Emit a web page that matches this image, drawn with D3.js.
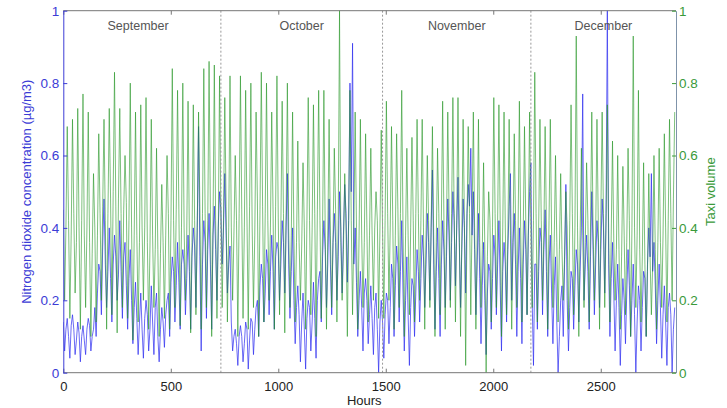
<!DOCTYPE html>
<html>
<head>
<meta charset="utf-8">
<script src="https://cdn.jsdelivr.net/npm/d3@7"></script>
<style>
  html, body { margin: 0; padding: 0; background: #fff; }
  svg { display: block; font-family: "Liberation Sans", Arial, sans-serif; }
</style>
</head>
<body>
<div id="chart"></div>
<script>
// Hourly NO2 vs taxi volume, Sep–Dec. Values at ~6 h steps
// (4 per day: 00h, 06h, 12h, 18h), one array per month and series.

const months = ['September', 'October', 'November', 'December'];
const monthStart = [0, 733, 1485, 2175];   // hours where the dotted separators sit
const hourEnd = 2850;
const xTicks = [0, 500, 1000, 1500, 2000, 2500];
const yTicks = [0, 0.2, 0.4, 0.6, 0.8, 1];

// nitrogen dioxide (left axis)
const no2Sep = [
  .14,.06,.12,.15, .10,.04,.13,.16, .12,.05,.09,.14, .11,.03,.10,.13, .09,.05,.12,.15,
  .13,.06,.10,.12, .18,.10,.22,.30, .28,.16,.35,.48, .30,.18,.28,.40, .26,.14,.30,.38,
  .32,.20,.27,.42, .28,.15,.32,.36, .24,.12,.26,.34, .20,.08,.18,.25, .15,.05,.14,.22,
  .12,.04,.15,.20, .16,.06,.12,.24, .14,.05,.18,.22, .10,.03,.12,.18, .14,.07,.16,.20,
  .22,.10,.25,.32, .28,.14,.24,.36, .25,.12,.30,.34, .30,.16,.26,.38, .28,.12,.32,.40,
  .35,.18,.40,.68, .32,.06,.30,.42, .36,.15,.34,.44, .30,.12,.38,.46, .34,.20,.40,.50
];
const no2Oct = [
  .45,.30,.40,.55, .38,.22,.30,.35, .14,.06,.10,.12, .08,.02,.10,.13, .10,.03,.08,.14,
  .12,.01,.09,.15, .14,.05,.12,.18, .20,.10,.24,.30, .26,.14,.22,.34, .30,.16,.28,.38,
  .28,.12,.32,.36, .34,.20,.30,.42, .36,.22,.40,.55, .30,.15,.28,.40, .20,.08,.18,.24,
  .16,.03,.14,.22, .12,.01,.15,.20, .18,.06,.14,.25, .15,.04,.20,.26, .28,.14,.32,.42,
  .34,.18,.30,.48, .30,.16,.36,.44, .36,.20,.32,.50, .40,.22,.38,.52, .44,.25,.42,.80,
  .50,.91,.30,.40, .25,.10,.20,.28, .18,.06,.22,.26, .20,.08,.16,.24, .15,.05,.18,.22,
  .12,.00,.14,.20
];
const no2Nov = [
  .14,.04,.16,.22, .20,.08,.18,.30, .26,.10,.24,.35, .30,.14,.28,.42, .22,.06,.20,.32,
  .16,.02,.18,.26, .24,.10,.22,.34, .28,.14,.26,.38, .32,.18,.30,.44, .36,.20,.40,.56,
  .30,.12,.28,.40, .26,.10,.30,.42, .34,.18,.32,.48, .38,.20,.36,.50, .42,.24,.40,.54,
  .36,.18,.34,.48, .40,.22,.44,.52, .46,.62,.38,.50, .34,.16,.30,.44, .26,.08,.24,.36,
  .20,.05,.22,.30, .28,.12,.26,.38, .32,.16,.30,.42, .24,.06,.28,.36, .30,.14,.34,.46,
  .55,.20,.36,.44, .30,.10,.28,.40, .26,.08,.30,.42, .34,.16,.38,.50
];
const no2Dec = [
  .58,.20,.02,.30, .30,.12,.28,.40, .36,.16,.34,.45, .28,.10,.30,.38, .22,.08,.24,.32,
  .14,.00,.10,.20, .24,.10,.30,.52, .20,.06,.18,.28, .26,.12,.24,.34, .30,.14,.28,.40,
  .77,.20,.30,.38, .28,.12,.32,.50, .34,.16,.30,.42, .36,.18,.34,.48, .40,.22,.44,1.0,
  .30,.10,.26,.36, .22,.06,.20,.30, .18,.02,.16,.26, .20,.08,.22,.34, .24,.10,.20,.30,
  .16,.00,.14,.24, .20,.06,.18,.28, .26,.10,.30,.40, .32,.55,.28,.36, .24,.08,.20,.30,
  .18,.04,.16,.24, .14,.02,.18,.22, .16,.00,.12,.18
];

// taxi volume (right axis)
const taxiSep = [
  .45,.20,.40,.68, .42,.15,.38,.70, .44,.22,.36,.73, .40,.12,.42,.77, .38,.18,.40,.72,
  .36,.10,.33,.55, .40,.14,.38,.66, .44,.20,.46,.70, .42,.12,.44,.73, .48,.16,.50,.83,
  .46,.11,.48,.73, .44,.18,.45,.60, .47,.15,.42,.80, .40,.09,.38,.72, .38,.14,.36,.74,
  .40,.20,.40,.76, .36,.12,.35,.70, .38,.18,.34,.62, .34,.10,.33,.52, .36,.15,.38,.60,
  .44,.12,.42,.84, .42,.18,.45,.78, .45,.13,.40,.80, .40,.20,.38,.75, .38,.11,.36,.74,
  .42,.16,.40,.72, .46,.12,.44,.84, .44,.18,.42,.86, .45,.10,.40,.85, .42,.15,.38,.82
];
const taxiOct = [
  .44,.18,.42,.76, .46,.14,.40,.82, .40,.20,.38,.60, .42,.10,.44,.82, .45,.15,.40,.78,
  .43,.12,.46,.80, .40,.18,.38,.72, .48,.10,.45,.83, .46,.14,.44,.80, .42,.20,.40,.72,
  .45,.12,.46,.82, .43,.16,.40,.75, .44,.11,.42,.80, .40,.18,.38,.72, .38,.14,.36,.64,
  .36,.20,.35,.58, .40,.12,.42,.76, .42,.16,.40,.74, .44,.10,.45,.78, .42,.15,.40,.78,
  .40,.12,.38,.70, .38,.18,.36,.62, .45,.14,.42,1.0, .36,.20,.34,.55, .40,.10,.42,.78,
  .42,.16,.40,.72, .40,.12,.38,.70, .38,.18,.36,.66, .40,.14,.38,.62, .38,.20,.40,.50,
  .42,.15,.40,.67
];
const taxiNov = [
  .40,.15,.42,.75, .44,.20,.40,.68, .42,.12,.38,.66, .45,.18,.44,.78, .40,.10,.38,.62,
  .38,.16,.40,.65, .42,.14,.44,.70, .44,.20,.42,.70, .40,.12,.38,.60, .42,.18,.40,.68,
  .38,.10,.36,.62, .44,.16,.42,.75, .42,.12,.40,.72, .45,.18,.44,.76, .44,.14,.42,.76,
  .40,.10,.38,.70, .42,.02,.40,.68, .44,.16,.42,.72, .40,.12,.38,.70, .36,.18,.34,.58,
  .34,.00,.32,.50, .42,.14,.40,.76, .44,.18,.42,.74, .42,.10,.40,.72, .40,.16,.38,.70,
  .38,.12,.36,.66, .42,.18,.40,.75, .40,.14,.38,.68, .42,.16,.40,.72
];
const taxiDec = [
  .40,.18,.42,.83, .44,.14,.40,.70, .42,.20,.38,.68, .40,.12,.42,.70, .38,.18,.36,.60,
  .36,.14,.34,.55, .34,.20,.32,.50, .40,.12,.42,.74, .44,.16,.40,.93, .40,.10,.38,.62,
  .38,.18,.36,.58, .42,.14,.40,.72, .40,.20,.38,.70, .42,.12,.44,.72, .44,.18,.40,.74,
  .40,.14,.38,.64, .36,.20,.34,.60, .34,.12,.32,.57, .38,.16,.36,.62, .42,.10,.40,.93,
  .40,.18,.38,.78, .34,.14,.32,.58, .30,.10,.28,.55, .32,.16,.30,.60, .34,.12,.36,.62,
  .36,.18,.38,.66, .40,.14,.42,.70, .44,.20,.48,.72
];

const BLUE = '#3030f0', GREEN = '#239423';
const BLUE_TXT = '#3c3cd6', GREEN_TXT = '#3a9a3a';

const W = 727, H = 408;
const m = { top: 10.7, right: 51, bottom: 35.3, left: 63.3 };
const iw = W - m.left - m.right, ih = H - m.top - m.bottom;

const svg = d3.select('#chart').append('svg').attr('width', W).attr('height', H);
const g = svg.append('g').attr('transform', `translate(${m.left},${m.top})`);

const x = d3.scaleLinear().domain([0, hourEnd]).range([0, iw]);
const y = d3.scaleLinear().domain([0, 1]).range([ih, 0]);

// spread each month's samples evenly over its own span
function toSeries(arrs) {
  const out = [];
  arrs.forEach((arr, i) => {
    const s = monthStart[i], e = i < 3 ? monthStart[i + 1] : hourEnd;
    const step = (e - s) / arr.length;
    arr.forEach((v, k) => out.push({ h: s + k * step, v }));
  });
  return out;
}
const no2 = toSeries([no2Sep, no2Oct, no2Nov, no2Dec]);
const taxi = toSeries([taxiSep, taxiOct, taxiNov, taxiDec]);

const line = d3.line().x(d => x(d.h)).y(d => y(d.v));

g.append('defs').append('clipPath').attr('id', 'plotClip')
  .append('rect').attr('x', 0).attr('y', -1).attr('width', iw).attr('height', ih + 2);

const plot = g.append('g').attr('clip-path', 'url(#plotClip)');
plot.append('path').datum(no2).attr('d', line)
  .attr('fill', 'none').attr('stroke', BLUE).attr('stroke-width', 0.85).attr('opacity', 0.85);
plot.append('path').datum(taxi).attr('d', line)
  .attr('fill', 'none').attr('stroke', GREEN).attr('stroke-width', 0.85).attr('opacity', 0.7);

// month separators + names
monthStart.slice(1).forEach(h => {
  g.append('line').attr('x1', x(h)).attr('x2', x(h)).attr('y1', 0).attr('y2', ih)
    .attr('stroke', '#999').attr('stroke-width', 1).attr('stroke-dasharray', '2,2');
});
months.forEach((name, i) => {
  const s = monthStart[i], e = i < 3 ? monthStart[i + 1] : hourEnd;
  g.append('text').attr('x', x((s + e) / 2) - (i === 0 ? 4 : 0)).attr('y', 19)
    .attr('text-anchor', 'middle').attr('font-size', 12.5).attr('fill', '#555').text(name);
});

// frame: top/bottom grey, sides coloured
g.append('line').attr('x1', 0).attr('x2', iw).attr('y1', 0).attr('y2', 0).attr('stroke', '#777');
g.append('line').attr('x1', 0).attr('x2', iw).attr('y1', ih).attr('y2', ih).attr('stroke', '#777');

const fmtY = d => d === 0 || d === 1 ? String(d) : d3.format('.1f')(d);

// bottom axis
const xb = g.append('g').attr('transform', `translate(0,${ih})`)
  .call(d3.axisBottom(x).tickValues(xTicks).tickSizeInner(-4).tickSizeOuter(0).tickPadding(9)
    .tickFormat(d3.format('d')));
xb.select('.domain').remove();
xb.selectAll('line').attr('stroke', '#777');
xb.selectAll('text').attr('font-size', 13).attr('fill', '#222').attr('font-family', null);
// top ticks
const xt = g.append('g').call(d3.axisTop(x).tickValues(xTicks).tickSizeInner(-4).tickSizeOuter(0).tickFormat(''));
xt.select('.domain').remove();
xt.selectAll('line').attr('stroke', '#777');

// left axis (NO2)
const yl = g.append('g')
  .call(d3.axisLeft(y).tickValues(yTicks).tickSizeInner(-4).tickSizeOuter(0).tickPadding(4).tickFormat(fmtY));
yl.select('.domain').attr('stroke', BLUE_TXT);
yl.selectAll('line').attr('stroke', BLUE_TXT);
yl.selectAll('text').attr('font-size', 13.5).attr('fill', BLUE_TXT).attr('font-family', null);

// right axis (taxi)
const yr = g.append('g').attr('transform', `translate(${iw},0)`)
  .call(d3.axisRight(y).tickValues(yTicks).tickSizeInner(-4).tickSizeOuter(0).tickPadding(3).tickFormat(fmtY));
yr.select('.domain').attr('stroke', '#7f93aa');
yr.selectAll('line').attr('stroke', GREEN_TXT);
yr.selectAll('text').attr('font-size', 13.5).attr('fill', GREEN_TXT).attr('font-family', null);

// axis titles
svg.append('text').attr('transform', `translate(31,${m.top + ih / 2}) rotate(-90)`)
  .attr('text-anchor', 'middle').attr('font-size', 13).attr('fill', BLUE_TXT)
  .text('Nitrogen dioxide concentration (µg/m3)');
svg.append('text').attr('transform', `translate(715,${m.top + ih / 2}) rotate(-90)`)
  .attr('text-anchor', 'middle').attr('font-size', 13).attr('fill', GREEN_TXT)
  .text('Taxi volume');
svg.append('text').attr('x', m.left + x(1400)).attr('y', 405)
  .attr('text-anchor', 'middle').attr('font-size', 13).attr('fill', '#222').text('Hours');
</script>
</body>
</html>
